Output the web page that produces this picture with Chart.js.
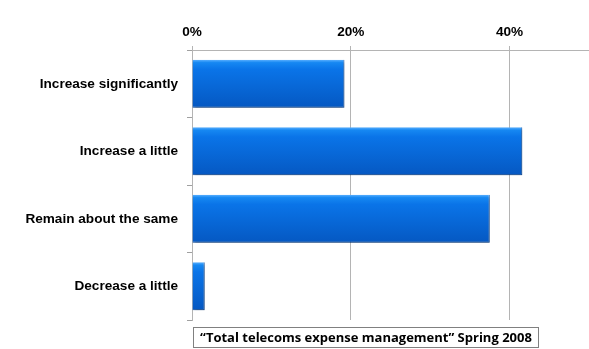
<!DOCTYPE html>
<html>
<head>
<meta charset="utf-8">
<script src="https://cdn.jsdelivr.net/npm/chart.js@4.4.0/dist/chart.umd.min.js"></script>
<style>
  html, body { margin: 0; padding: 0; background: #fff; }
  #wrap { position: relative; width: 589px; height: 349px; }
  #caption {
    position: absolute; left: 193px; top: 327px; width: 346px; height: 21px;
    border: 1px solid #808080; box-sizing: border-box;
    font: bold 13px "Open Sans", sans-serif; letter-spacing: 0;
    line-height: 19px; text-align: center; color: #000; white-space: nowrap;
  }
</style>
</head>
<body>
<div id="wrap">
  <canvas id="expenseChart" width="589" height="349"></canvas>
  <div id="caption">“Total telecoms expense management” Spring 2008</div>
</div>
<script>
const categories = ['Increase significantly', 'Increase a little', 'Remain about the same', 'Decrease a little'];
const shares = [19.2, 41.6, 37.5, 1.6];
const tickValues = [0, 20, 40];

// soft drop shadow under the bars
const barShadow = {
  id: 'barShadow',
  beforeDatasetDraw(chart) {
    const ctx = chart.ctx;
    ctx.save();
    ctx.shadowColor = 'rgba(0,0,0,0.35)';
    ctx.shadowBlur = 3;
    ctx.shadowOffsetX = 1;
    ctx.shadowOffsetY = 2;
  },
  afterDatasetDraw(chart) {
    chart.ctx.restore();
  }
};

function barFill(context) {
  const chart = context.chart;
  const y = chart.scales.y;
  if (!y || context.dataIndex === undefined) return '#0a6ee0';
  const mid = y.getPixelForValue(context.dataIndex);
  if (!isFinite(mid)) return '#0a6ee0';
  const g = chart.ctx.createLinearGradient(0, mid - 24, 0, mid + 24);
  g.addColorStop(0, '#5ab0ff');
  g.addColorStop(0.06, '#1688f2');
  g.addColorStop(0.2, '#0a74e8');
  g.addColorStop(1, '#0558c2');
  return g;
}

const labelFont = { family: "'Liberation Sans', Arial, sans-serif", size: 13.6, weight: 'bold' };

const chart = new Chart(document.getElementById('expenseChart'), {
  type: 'bar',
  data: {
    labels: categories,
    datasets: [{
      data: shares,
      backgroundColor: barFill,
      borderColor: '#0a4fa8',
      borderWidth: { top: 0, left: 0, right: 1, bottom: 1 },
      borderSkipped: 'left',
      barPercentage: 0.71,
      categoryPercentage: 1
    }]
  },
  plugins: [barShadow],
  options: {
    indexAxis: 'y',
    responsive: false,
    animation: false,
    layout: { padding: { right: 0, bottom: 29 } },
    plugins: {
      legend: { display: false },
      tooltip: { enabled: false }
    },
    scales: {
      x: {
        position: 'top',
        min: 0,
        max: 50,
        afterBuildTicks(scale) {
          scale.ticks = tickValues.map(v => ({ value: v }));
        },
        afterFit(scale) { scale.height = 50; },
        grid: { color: '#b4b4b4', tickLength: 4, drawTicks: true },
        border: { color: '#b4b4b4' },
        ticks: {
          color: '#000',
          padding: 6,
          font: labelFont,
          callback: v => v + '%'
        }
      },
      y: {
        afterFit(scale) { scale.width = 192; },
        grid: { offset: true, drawOnChartArea: false, color: '#a0a0a0', tickLength: 5 },
        border: { color: '#b4b4b4' },
        ticks: {
          color: '#000',
          padding: 9,
          font: labelFont
        }
      }
    }
  }
});
// gradients need the laid-out scale, so redraw once layout exists
chart.update('none');
</script>
</body>
</html>
